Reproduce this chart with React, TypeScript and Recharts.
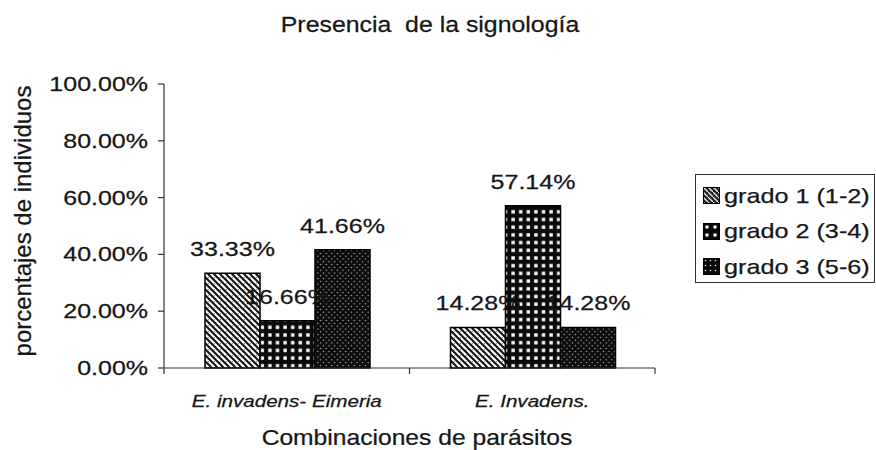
import React from 'react';
import { BarChart, Bar, XAxis, YAxis, Legend, LabelList } from 'recharts';

// Categories, series and tick values
const categories = ['E. invadens- Eimeria', 'E. Invadens.'];
const seriesNames = ['grado 1 (1-2)', 'grado 2 (3-4)', 'grado 3 (5-6)'];
const grado1 = [0.3333, 0.1428];
const grado2 = [0.1666, 0.5714];
const grado3 = [0.4166, 0.1428];
const yTicks = [0, 0.2, 0.4, 0.6, 0.8, 1];

const chartTitle = 'Presencia  de la signología';
const yTitle = 'porcentajes de individuos';
const xTitle = 'Combinaciones de parásitos';

const data = categories.map((name, i) => ({
  name,
  g1: grado1[i],
  g2: grado2[i],
  g3: grado3[i],
}));

const seriesKeys = ['g1', 'g2', 'g3'];
const patternIds = ['pat-g1', 'pat-g2', 'pat-g3'];
const keyIds = ['key-g1', 'key-g2', 'key-g3'];

const FONT = '"Liberation Sans", Arial, Helvetica, sans-serif';
const INK = '#161616';
const AXIS = '#333';

const pct = (v: number) => `${(v * 100).toFixed(2)}%`;

type WideTextProps = {
  x: number;
  y: number;
  size: number;
  sx?: number;
  anchor?: 'start' | 'middle' | 'end';
  italic?: boolean;
  rotate?: number;
  children: React.ReactNode;
};

// Text drawn with a horizontal stretch along its own direction
function WideText({ x, y, size, sx = 1, anchor = 'middle', italic = false, rotate = 0, children }: WideTextProps) {
  return (
    <text
      transform={`translate(${x},${y}) rotate(${rotate}) scale(${sx},1)`}
      x={0}
      y={0}
      textAnchor={anchor}
      fontFamily={FONT}
      fontSize={size}
      fontStyle={italic ? 'italic' : 'normal'}
      fill={INK}
      stroke={INK}
      strokeWidth={0.25}
      style={{ whiteSpace: 'pre' }}
    >
      {children}
    </text>
  );
}

function Patterns() {
  return (
    <defs>
      {/* grado 1: light diagonal weave */}
      <pattern id="pat-g1" patternUnits="userSpaceOnUse" width={6} height={6}>
        <rect width={6} height={6} fill="#fff" />
        <path d="M-1,-1 L7,7 M-1,5 L1,7 M5,-1 L7,1" stroke="#111" strokeWidth={2} />
        <circle cx={4.3} cy={1.7} r={0.6} fill="#555" />
      </pattern>
      {/* grado 2: black with white squares */}
      <pattern id="pat-g2" patternUnits="userSpaceOnUse" width={7.6} height={7.7}>
        <rect width={7.6} height={7.7} fill="#0a0a0a" />
        <rect x={2.2} y={2.2} width={3.4} height={3.4} fill="#fff" />
      </pattern>
      {/* grado 3: black with fine dots */}
      <pattern id="pat-g3" patternUnits="userSpaceOnUse" width={5.6} height={5.6}>
        <rect width={5.6} height={5.6} fill="#0a0a0a" />
        <circle cx={1.4} cy={1.4} r={0.75} fill="#bbb" />
        <circle cx={4.2} cy={4.2} r={0.75} fill="#bbb" />
      </pattern>
      {/* legend key swatches */}
      <pattern id="key-g1" patternUnits="userSpaceOnUse" width={5} height={5}>
        <rect width={5} height={5} fill="#222" />
        <path d="M0,0 L5,5" stroke="#eee" strokeWidth={1.3} />
      </pattern>
      <pattern id="key-g2" patternUnits="userSpaceOnUse" width={8} height={8}>
        <rect width={8} height={8} fill="#0a0a0a" />
        <rect x={2.5} y={2.5} width={3} height={3} fill="#fff" />
      </pattern>
      <pattern id="key-g3" patternUnits="userSpaceOnUse" width={5} height={5}>
        <rect width={5} height={5} fill="#0a0a0a" />
        <circle cx={2.5} cy={2.5} r={0.8} fill="#ddd" />
      </pattern>
    </defs>
  );
}

function LegendBox() {
  return (
    <div
      style={{
        width: 180,
        height: 109,
        boxSizing: 'border-box',
        border: `1.5px solid ${AXIS}`,
        paddingTop: 3,
        fontFamily: FONT,
        fontSize: 21,
        color: INK,
        background: '#fff',
        WebkitTextStroke: '0.25px #161616',
      }}
    >
      {seriesNames.map((n, i) => (
        <div key={n} style={{ height: 35.5, display: 'flex', alignItems: 'center' }}>
          <svg width={17} height={17} style={{ marginLeft: 7, flex: 'none' }}>
            <rect x={0.5} y={0.5} width={16} height={16} fill={`url(#${keyIds[i]})`} stroke="#000" />
          </svg>
          <span
            style={{
              display: 'inline-block',
              marginLeft: 4,
              transform: 'scaleX(1.2)',
              transformOrigin: 'left center',
              whiteSpace: 'nowrap',
              lineHeight: '24px',
            }}
          >
            {n}
          </span>
        </div>
      ))}
    </div>
  );
}

const YTick = (props: any) => {
  const { x, y, payload } = props;
  return (
    <WideText x={x} y={y + 7} size={20} sx={1.25} anchor="end">
      {pct(payload.value)}
    </WideText>
  );
};

// Category label plus the short tick marks at the category boundaries
const XTick = (props: any) => {
  const { x, y, payload, index } = props;
  const axisWidth = typeof props.width === 'number' ? props.width : 491;
  const band = axisWidth / categories.length;
  const left = x - band / 2;
  const right = x + band / 2;
  return (
    <g>
      <line x1={left} y1={y} x2={left} y2={y + 6} stroke={AXIS} strokeWidth={1.2} />
      {index === categories.length - 1 && (
        <line x1={right} y1={y} x2={right} y2={y + 6} stroke={AXIS} strokeWidth={1.2} />
      )}
      <WideText x={x} y={y + 39} size={16.5} sx={1.25} italic>
        {payload.value}
      </WideText>
    </g>
  );
};

const ValueLabel = (props: any) => {
  const { x, y, width, value } = props;
  return (
    <WideText x={x + width / 2} y={y - 17} size={20} sx={1.25}>
      {pct(value)}
    </WideText>
  );
};

export default function App() {
  return (
    <div style={{ position: 'absolute', left: 0, top: 0, width: 876, height: 450, background: '#fff' }}>
      <svg width={876} height={450} style={{ position: 'absolute', left: 0, top: 0 }}>
        <Patterns />
        <WideText x={430} y={32} size={22} sx={1.13}>
          {chartTitle}
        </WideText>
      </svg>
      <div style={{ position: 'absolute', left: 0, top: 0 }}>
        <BarChart
          width={876}
          height={450}
          data={data}
          margin={{ top: 84, right: 41, bottom: 42, left: 104 }}
          barGap={0}
          barCategoryGap={41}
        >
          <XAxis
            dataKey="name"
            height={40}
            tickLine={false}
            tickSize={0}
            tickMargin={0}
            axisLine={{ stroke: AXIS, strokeWidth: 1.2 }}
            tick={<XTick />}
            interval={0}
            label={{
              content: () => (
                <WideText x={417} y={445} size={22} sx={1.12}>
                  {xTitle}
                </WideText>
              ),
            }}
          />
          <YAxis
            width={60}
            domain={[0, 1]}
            ticks={yTicks}
            interval={0}
            tickSize={6}
            tickMargin={10}
            tickLine={{ stroke: AXIS, strokeWidth: 1.2 }}
            axisLine={{ stroke: AXIS, strokeWidth: 1.2 }}
            tick={<YTick />}
            label={{
              content: () => (
                <WideText x={31} y={221} size={24} rotate={-90}>
                  {yTitle}
                </WideText>
              ),
            }}
          />
          {seriesKeys.map((k, i) => (
            <Bar
              key={k}
              dataKey={k}
              name={seriesNames[i]}
              fill={`url(#${patternIds[i]})`}
              stroke="#000"
              strokeWidth={1.5}
              isAnimationActive={false}
            >
              <LabelList dataKey={k} content={<ValueLabel />} />
            </Bar>
          ))}
          <Legend
            layout="vertical"
            align="right"
            verticalAlign="top"
            content={() => <LegendBox />}
            wrapperStyle={{ left: 695, top: 174, width: 180 }}
          />
        </BarChart>
      </div>
    </div>
  );
}
